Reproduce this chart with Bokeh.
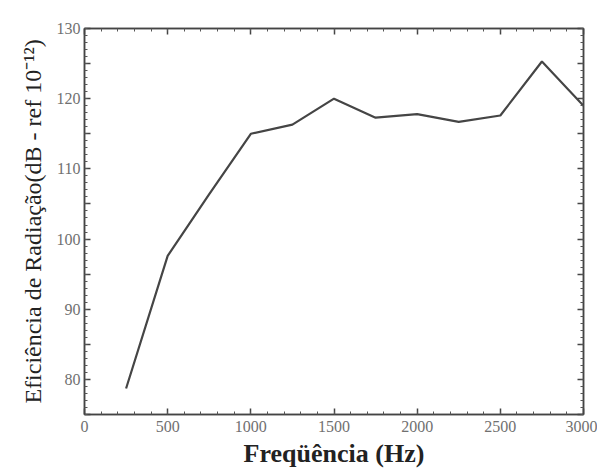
from bokeh.plotting import figure
from bokeh.models import LinearAxis, FixedTicker, CustomJSTickFormatter, Range1d
from bokeh.embed import file_html
from bokeh.resources import INLINE

freq = [250, 500, 750, 1000, 1250, 1500, 1750, 2000, 2250, 2500, 2750, 3000]
eff = [78.7, 97.6, 106.4, 115.0, 116.3, 120.0, 117.3, 117.8, 116.7, 117.6, 125.3, 119.0]

x_major = [0, 500, 1000, 1500, 2000, 2500, 3000]
x_minor = list(range(0, 3001, 100))
y_major = [75, 80, 85, 90, 95, 100, 105, 110, 115, 120, 125, 130]
y_minor = list(range(75, 131, 1))

W, H = 597, 470
p = figure(width=W, height=H, output_backend="svg", toolbar_location=None,
           x_range=Range1d(0, 3000), y_range=Range1d(75, 130),
           min_border_left=84, min_border_right=14, min_border_top=28, min_border_bottom=54)
p.grid.visible = False
p.outline_line_color = "#444444"
p.outline_line_width = 1.5
p.background_fill_color = "white"
p.border_fill_color = "white"

p.line(freq, eff, line_color="#454545", line_width=2.2)

fmt = CustomJSTickFormatter(code="return (tick % 10 == 0) ? tick.toString() : '';")

def style(ax, labels=True):
    ax.axis_line_color = "#444444"
    ax.axis_line_width = 1.5
    ax.major_tick_in = 6
    ax.major_tick_out = 0
    ax.minor_tick_in = 3
    ax.minor_tick_out = 0
    ax.major_tick_line_color = "#444444"
    ax.minor_tick_line_color = "#555555"
    ax.major_tick_line_width = 1.5
    ax.minor_tick_line_width = 1
    ax.major_label_text_font = "Liberation Serif"
    ax.major_label_text_font_size = "16px"
    ax.major_label_text_color = "#707070"
    if not labels:
        ax.major_label_text_font_size = "0px"
        ax.major_label_text_alpha = 0

xa = p.xaxis[0]
xa.ticker = FixedTicker(ticks=x_major, minor_ticks=x_minor)
style(xa)
xa.major_label_standoff = 6
xa.axis_label = "Freqüência (Hz)"
xa.axis_label_text_font = "Liberation Serif"
xa.axis_label_text_font_style = "bold"
xa.axis_label_text_font_size = "26px"
xa.axis_label_text_color = "#222222"
xa.axis_label_standoff = 4

ya = p.yaxis[0]
ya.ticker = FixedTicker(ticks=y_major, minor_ticks=y_minor)
ya.formatter = fmt
style(ya)
ya.major_label_standoff = 4
ya.axis_label = "Eficiência de Radiação(dB - ref 10⁻¹²)"
ya.axis_label_text_font = "Liberation Serif"
ya.axis_label_text_font_style = "normal"
ya.axis_label_text_font_size = "24px"
ya.axis_label_text_color = "#222222"
ya.axis_label_standoff = 8

top = LinearAxis(ticker=FixedTicker(ticks=x_major, minor_ticks=x_minor))
style(top, labels=False)
p.add_layout(top, "above")
right = LinearAxis(ticker=FixedTicker(ticks=y_major, minor_ticks=y_minor))
style(right, labels=False)
p.add_layout(right, "right")

open("out.html", "w").write(file_html(p, INLINE))
